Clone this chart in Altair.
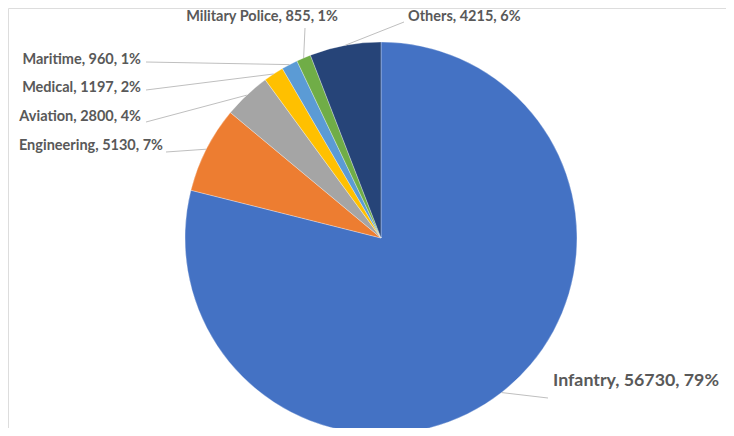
import math
import altair as alt
import pandas as pd

# ---- data ----
categories = ["Infantry", "Engineering", "Aviation", "Medical", "Maritime", "Military Police", "Others"]
values = [56730, 5130, 2800, 1197, 960, 855, 4215]
percents = ["79%", "7%", "4%", "2%", "1%", "1%", "6%"]
colors = ["#4472C4", "#ED7D31", "#A5A5A5", "#FFC000", "#5B9BD5", "#70AD47", "#264478"]

# ---- layout (pixels inside the chart) ----
W, H = 718, 420
CX, CY, R = 373, 230, 196
label_x = [545, 155, 133, 133, 133, 254, 400]
label_y = [373, 138, 109, 80, 52, 9, 9]
label_align = ["left", "right", "right", "right", "right", "center", "left"]
label_size = [17.8, 14.5, 14.5, 14.5, 14.5, 14.5, 14.5]
line_end_x = [540, 158, 138, 138, 138, 297, 396]
line_end_y = [390, 144, 114, 82, 54, 20, 14]

labels = [f"{c}, {v}, {p}" for c, v, p in zip(categories, values, percents)]
total = sum(values)
cum = 0
ax, ay = [], []
for v in values:
    mid = (cum + v / 2) / total * 2 * math.pi
    ax.append(CX + R * math.sin(mid))
    ay.append(CY - R * math.cos(mid))
    cum += v

df = pd.DataFrame({
    "category": categories,
    "value": values,
    "idx": list(range(len(categories))),
    "label": labels,
})
ldf = pd.DataFrame({
    "label": labels,
    "lx": label_x, "ly": label_y, "align": label_align, "size": label_size,
    "ex": line_end_x, "ey": line_end_y, "ax": ax, "ay": ay,
})

shadow = alt.Chart(pd.DataFrame({"v": [1]})).mark_arc(
    outerRadius=R + 3, fill="#e9e9e9", opacity=0.8
).encode(theta=alt.Theta("v:Q"), x=alt.value(CX - 1), y=alt.value(CY + 1))

pie = alt.Chart(df).mark_arc(outerRadius=R, stroke="white", strokeWidth=0.3).encode(
    theta=alt.Theta("value:Q", stack=True),
    order=alt.Order("idx:Q"),
    color=alt.Color("category:N", scale=alt.Scale(domain=categories, range=colors), legend=None),
    x=alt.value(CX), y=alt.value(CY),
)

lines = alt.Chart(ldf).mark_rule(color="#BFBFBF", strokeWidth=1).encode(
    x=alt.X("ax:Q", scale=None), y=alt.Y("ay:Q", scale=None),
    x2="ex:Q", y2="ey:Q",
)

texts = []
for align in ["left", "right", "center"]:
    sub = ldf[ldf["align"] == align]
    t = alt.Chart(sub).mark_text(
        align=align, baseline="middle", font="Lato", fontWeight="bold", color="#595959"
    ).encode(
        x=alt.X("lx:Q", scale=None), y=alt.Y("ly:Q", scale=None),
        text="label:N",
        size=alt.Size("size:Q", scale=None, legend=None),
    )
    texts.append(t)

chart = alt.layer(shadow, pie, lines, *texts).properties(
    width=W, height=H, autosize=alt.AutoSizeParams(type="none"), padding=0
).configure_view(stroke="transparent", strokeWidth=0).configure(background="white")

chart.save("out.html", embed_options={"renderer": "svg", "actions": False})
